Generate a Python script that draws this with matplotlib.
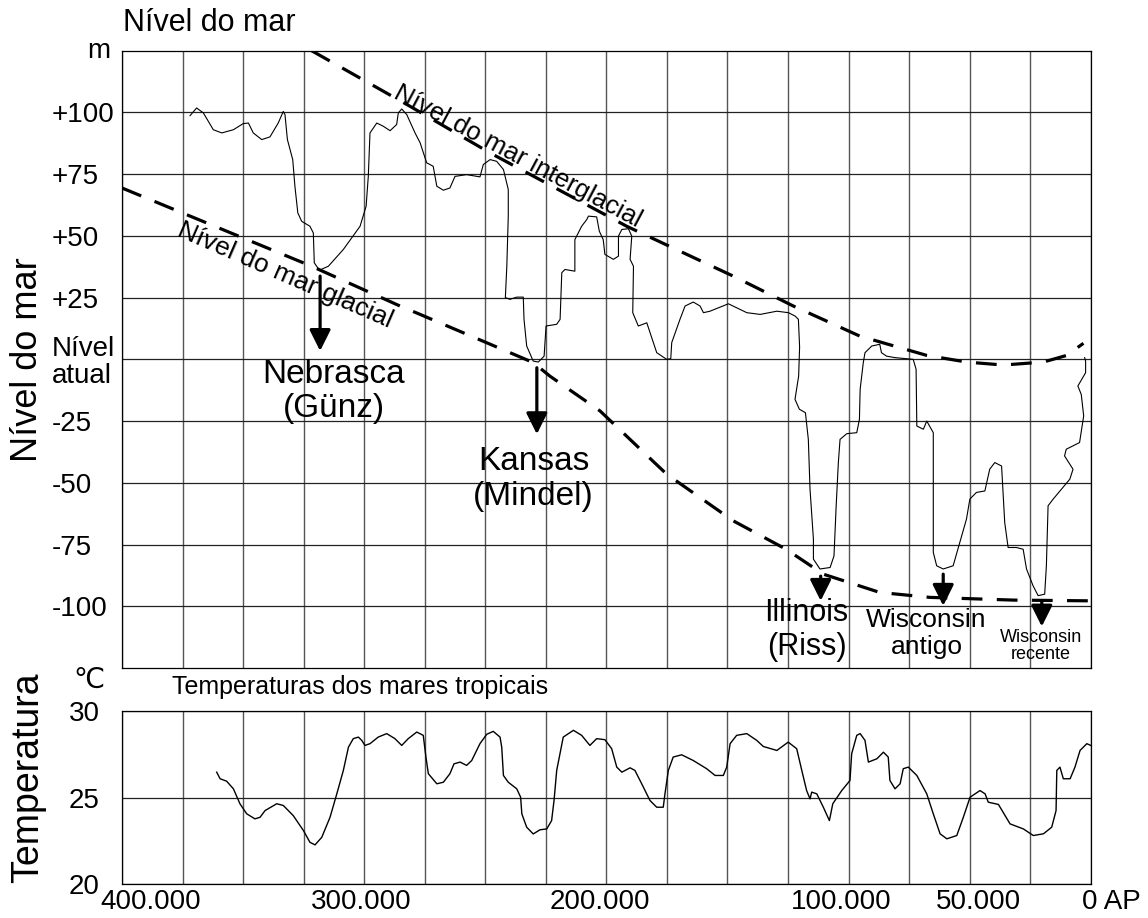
import numpy as np
import matplotlib.pyplot as plt
from matplotlib.transforms import blended_transform_factory, ScaledTranslation

plt.rcParams['font.family'] = ['Liberation Sans', 'DejaVu Sans']

# Sea level curve: age in thousands of years before present, level in m
sea_age = [371.9, 369.2, 366.4, 362.3, 358.8, 354.0, 349.9, 347.8, 345.8, 342.3,
           338.9, 335.5, 333.4, 332.7, 331.7, 329.5, 328.6, 327.4, 325.8, 322.4,
           321.0, 320.6, 318.5, 314.8, 308.6, 301.7, 299.2, 298.3, 297.6, 294.8,
           292.1, 289.3, 286.6, 285.9, 284.5, 282.4, 279.0, 276.9, 274.2, 271.5,
           270.0, 267.3, 264.6, 262.5, 257.7, 252.2, 250.8, 248.0, 245.3, 242.5,
           240.5, 240.5, 241.1, 241.7, 239.8, 237.0, 234.3, 234.0, 232.9, 230.2,
           228.1, 225.7, 224.9, 220.5, 219.1, 218.4, 217.1, 213.0, 213.0, 210.2,
           208.1, 207.4, 204.0, 202.9, 201.3, 200.6, 197.1, 195.0, 195.0, 193.6,
           190.9, 189.5, 190.2, 188.8, 189.1, 186.8, 183.3, 179.2, 175.1, 173.4,
           173.0, 169.6, 167.5, 164.1, 161.3, 159.9, 157.2, 149.6, 142.0, 136.5,
           129.6, 124.8, 122.0, 120.7, 120.2, 120.6, 122.1, 120.3, 117.8, 116.6,
           115.9, 114.5, 114.5, 111.8, 107.6, 106.0, 105.1, 104.2, 103.5, 100.7,
           96.6, 95.5, 95.2, 93.9, 93.2, 90.4, 87.1, 86.4, 84.3, 80.8,
           73.3, 72.1, 71.8, 69.1, 67.7, 65.0, 65.0, 63.6, 60.9, 56.8,
           53.3, 51.3, 49.9, 47.2, 43.7, 41.7, 39.6, 36.8, 35.5, 34.1,
           30.7, 27.9, 26.5, 23.8, 21.7, 19.0, 18.3, 17.6, 15.5, 8.6,
           7.3, 10.8, 10.1, 4.6, 2.9, 3.9, 5.3, 2.1, 2.1, 2.5]
sea_level = [98.7, 101.8, 99.8, 93.0, 91.7, 93.0, 95.5, 95.7, 91.7, 89.0,
             90.1, 95.7, 100.4, 99.1, 89.0, 80.9, 70.1, 59.3, 55.9, 53.9,
             51.2, 39.1, 36.1, 37.7, 44.5, 53.9, 62.0, 74.1, 91.7, 95.7,
             94.4, 92.6, 95.1, 99.8, 101.4, 99.1, 91.7, 87.7, 79.6, 78.2,
             70.1, 68.5, 69.4, 74.1, 74.8, 73.9, 78.9, 80.9, 80.2, 76.9,
             68.8, 58.0, 37.7, 25.0, 24.3, 25.2, 25.2, 16.2, 5.4, -0.7,
             -1.1, 1.3, 13.5, 14.2, 16.2, 35.1, 36.4, 35.7, 48.5, 53.9,
             56.6, 58.0, 57.7, 51.9, 48.5, 42.5, 40.5, 41.8, 49.9, 52.6,
             52.9, 49.9, 40.5, 37.7, 18.9, 13.5, 14.8, 2.7, 0.0, 0.3,
             6.8, 16.2, 21.6, 23.2, 21.6, 18.9, 19.5, 22.5, 18.9, 18.2,
             19.5, 18.9, 17.5, 16.2, 5.0, -6.8, -16.2, -20.2, -21.6, -32.4,
             -52.6, -72.8, -80.9, -84.9, -84.3, -79.6, -59.3, -41.8, -32.4, -30.1,
             -29.7, -24.3, -12.1, -1.3, 2.7, 5.4, 6.1, 2.7, 1.3, 0.7,
             0.0, -4.0, -27.0, -28.3, -25.0, -29.7, -78.2, -83.6, -84.9, -83.6,
             -71.5, -64.7, -56.6, -53.9, -53.3, -44.5, -41.8, -43.2, -66.1, -76.2,
             -76.2, -76.9, -84.9, -91.7, -95.7, -95.1, -83.6, -59.3, -56.6, -48.5,
             -44.5, -39.1, -36.4, -33.7, -22.9, -14.2, -10.8, -5.4, -0.7, 0.7]

# Interglacial and glacial sea level trend lines
inter_age = [321.7, 281.1, 248.0, 191.6, 147.6, 122.8, 95.3, 67.7, 51.2, 36.1, 19.6, 9.9, 3.0]
inter_level = [125.0, 102.5, 83.6, 53.9, 33.7, 21.6, 9.4, 1.6, -1.1, -2.3, -1.1, 1.6, 6.5]
glac_age = [400, 321.7, 285.2, 276.9, 230.2, 223.3, 202.6, 175.1, 147.6, 125.8, 110.4, 87.1, 66.4, 31.9, 0]
glac_level = [69.4, 37.7, 21.6, 18.2, -1.3, -6.8, -20.9, -46.5, -65.4, -76.9, -87.0, -94.4, -96.4, -97.5, -97.8]

# Glaciations: arrows and their names
glac_names = ['Nebrasca\n(Günz)', 'Kansas\n(Mindel)', 'Illinois\n(Riss)',
              'Wisconsin\nantigo', 'Wisconsin\nrecente']
arrow_age = [318.2, 228.7, 111.5, 60.9, 20.2]
arrow_top = [33.7, -3.4, -87.8, -87.0, -97.8]
arrow_bottom = [3.4, -30.3, -97.8, -99.8, -108.2]
name_age = [312.5, 230.0, 117.3, 67.8, 20.7]
name_level = [-13.0, -48.5, -109.6, -111.0, -116.1]
name_size = [24, 24, 22, 19, 13]

# Tropical sea temperatures
temp_age = [360.9, 359.5, 356.8, 354.0, 351.3, 348.5, 345.1, 343.0, 340.9, 336.1,
            333.4, 329.3, 325.1, 322.4, 320.3, 317.5, 314.1, 311.3, 308.6, 306.5,
            304.5, 302.4, 301.0, 299.7, 297.6, 294.2, 290.7, 287.3, 284.5, 281.8,
            278.3, 275.6, 274.5, 273.5, 270.0, 267.3, 264.6, 262.9, 260.4, 257.7,
            255.6, 252.2, 249.4, 246.7, 243.9, 243.2, 242.5, 240.5, 237.0, 235.4,
            234.9, 232.9, 230.2, 227.4, 224.6, 222.6, 221.6, 220.5, 217.8, 213.6,
            210.2, 206.8, 204.0, 200.6, 197.8, 195.7, 193.6, 190.2, 188.2, 185.4,
            182.0, 179.2, 176.5, 175.8, 174.4, 172.4, 168.9, 164.1, 158.6, 155.1,
            151.7, 150.3, 148.9, 146.2, 142.0, 137.9, 135.2, 129.6, 124.9, 121.4,
            119.3, 117.3, 115.9, 115.2, 113.1, 110.4, 107.9, 106.5, 102.8, 99.4,
            98.7, 96.6, 95.2, 93.2, 91.8, 88.3, 85.6, 83.6, 82.9, 80.8,
            78.7, 77.4, 75.3, 71.8, 67.7, 65.0, 62.2, 59.4, 55.3, 52.6,
            49.8, 45.7, 43.6, 42.3, 38.1, 33.3, 27.8, 23.7, 19.5, 16.1,
            14.3, 14.0, 12.7, 11.3, 8.5, 6.5, 4.4, 1.6, 0.0]
temp_val = [26.46, 26.08, 25.94, 25.5, 24.64, 24.06, 23.77, 23.86, 24.25, 24.64,
            24.54, 23.96, 23.1, 22.42, 22.27, 22.71, 23.86, 25.21, 26.56, 27.9,
            28.39, 28.48, 28.29, 28.0, 28.1, 28.48, 28.68, 28.39, 28.0, 28.39,
            28.77, 28.58, 27.33, 26.37, 25.79, 25.88, 26.37, 26.94, 27.04, 26.85,
            27.13, 28.1, 28.64, 28.81, 28.48, 27.9, 26.27, 25.88, 25.5, 25.02,
            24.06, 23.29, 22.9, 23.14, 23.19, 23.67, 24.83, 26.56, 28.48, 28.87,
            28.58, 28.0, 28.39, 28.33, 27.81, 26.75, 26.46, 26.71, 26.56, 25.79,
            24.83, 24.44, 24.44, 25.21, 26.56, 27.33, 27.46, 27.13, 26.66, 26.27,
            26.27, 26.75, 28.1, 28.58, 28.68, 28.29, 27.94, 27.71, 28.19, 27.81,
            26.56, 25.4, 24.92, 25.31, 25.21, 24.44, 23.67, 24.64, 25.4, 25.98,
            27.52, 28.58, 28.68, 28.29, 27.04, 27.23, 27.61, 27.33, 25.98, 25.5,
            25.79, 26.66, 26.75, 26.27, 25.21, 24.06, 22.91, 22.62, 22.81, 23.86,
            25.02, 25.4, 25.21, 24.73, 24.6, 23.48, 23.19, 22.81, 22.91, 23.29,
            24.25, 26.56, 26.75, 26.08, 26.08, 26.75, 27.71, 28.1, 28.0]

# Axis ticks and labels
sea_ticks = [100, 75, 50, 25, 0, -25, -50, -75, -100]
sea_tick_labels = ['+100', '+75', '+50', '+25', 'Nível\natual', '-25', '-50', '-75', '-100']
temp_ticks = [30, 25, 20]
year_ticks = [400, 300, 200, 100, 50, 0]
year_labels = ['400.000', '300.000', '200.000', '100.000', '50.000', '0 AP']
year_nudge = [29, -3, -6, -7, 9, -9]  # px

W, H = 1148, 918
fig = plt.figure(figsize=(W / 100, H / 100), dpi=100)
ax1 = fig.add_axes([122 / W, 1 - 668 / H, 968.7 / W, 617.3 / H])
ax2 = fig.add_axes([122 / W, 1 - 884.3 / H, 968.7 / W, 173.6 / H])

for ax in (ax1, ax2):
    ax.set_xlim(400, 0)
    ax.set_xticks(np.arange(0, 401, 25))
    ax.xaxis.grid(True, color='#555555', lw=1.0)
    ax.yaxis.grid(True, color='#222222', lw=0.9)
    ax.set_axisbelow(True)
    ax.tick_params(length=0, labelbottom=False)
    for s in ax.spines.values():
        s.set_linewidth(0.9)

# --- sea level panel
ax1.set_ylim(-125, 125)
ax1.set_yticks(sea_ticks)
ax1.set_yticklabels(sea_tick_labels, fontsize=20, ha='left', linespacing=1.05)
ax1.tick_params(axis='y', pad=50.5)

ax1.plot(sea_age, sea_level, color='black', lw=0.8)
dash_kw = dict(color='black', lw=2.3, dashes=(6.5, 4.5), dash_capstyle='butt')
ax1.plot(inter_age, inter_level, **dash_kw)
ax1.plot(glac_age, glac_level, **dash_kw)

ax1.text(288.5, 106.2, 'Nível do mar interglacial', fontsize=18.5, rotation=-28,
         rotation_mode='anchor', ha='left', va='baseline')
ax1.text(377.7, 50.2, 'Nível do mar glacial', fontsize=19, rotation=-23.5,
         rotation_mode='anchor', ha='left', va='baseline')

for x, y0, y1 in zip(arrow_age, arrow_top, arrow_bottom):
    ax1.annotate('', xy=(x, y1), xytext=(x, y0),
                 arrowprops=dict(arrowstyle='-|>', color='black', lw=2.3,
                                 mutation_scale=32, shrinkA=0, shrinkB=0))
for name, x, y, fs in zip(glac_names, name_age, name_level, name_size):
    ax1.text(x, y, name, fontsize=fs, ha='center', va='center',
             linespacing=1.15 if fs > 15 else 1.0)

ax1.text(-12 / 968.7, 1.0, 'm', transform=ax1.transAxes, fontsize=20,
         ha='right', va='center')

# --- temperature panel
ax2.set_ylim(20, 30)
ax2.set_yticks(temp_ticks)
ax2.set_yticklabels([str(t) for t in temp_ticks], fontsize=20)
ax2.tick_params(axis='y', pad=16)
ax2.plot(temp_age, temp_val, color='black', lw=1.0)

trans = blended_transform_factory(ax2.transData, ax2.transAxes)
for x, lab, dx in zip(year_ticks, year_labels, year_nudge):
    off = ScaledTranslation(dx / 100, -18 / 100, fig.dpi_scale_trans)
    ax2.text(x, 0, lab, transform=trans + off, fontsize=20,
             ha='left' if lab == '0 AP' else 'center', va='center')

# --- figure texts
fig.text(123 / W, 1 - 23 / H, 'Nível do mar', fontsize=22, ha='left', va='center')
fig.text(28 / W, 1 - 360 / H, 'Nível do mar', fontsize=26, rotation=90,
         ha='center', va='center')
fig.text(28 / W, 1 - 778 / H, 'Temperatura', fontsize=27, rotation=90,
         ha='center', va='center')
fig.text(73 / W, 1 - 681 / H, '℃', fontsize=20, ha='left', va='center')
fig.text(172 / W, 1 - 687 / H, 'Temperaturas dos mares tropicais', fontsize=18,
         ha='left', va='center')

fig.savefig('out.png', dpi=100, facecolor='white')
